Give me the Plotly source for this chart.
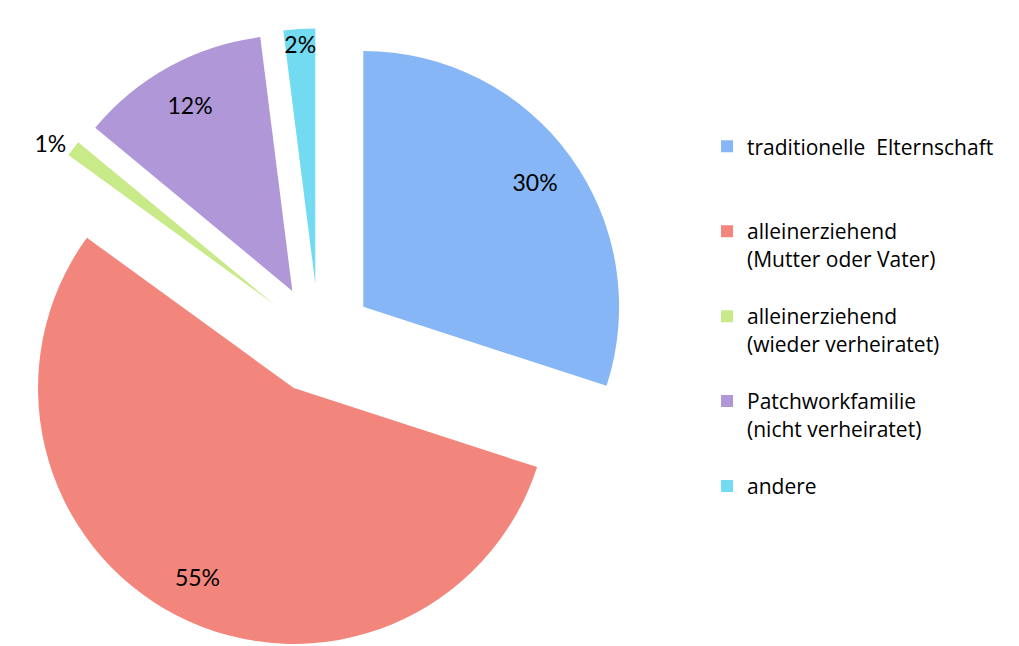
import plotly.graph_objects as go

categories = [
    "traditionelle  Elternschaft",
    "alleinerziehend<br>(Mutter oder Vater)",
    "alleinerziehend<br>(wieder verheiratet)",
    "Patchworkfamilie<br>(nicht verheiratet)",
    "andere",
]
values = [30, 55, 1, 12, 2]
colors = ["#86B6F5", "#F2867C", "#C8EA88", "#B098D8", "#72DAF1"]
text_positions = ["inside", "inside", "outside", "inside", "inside"]

# pad legend labels to three lines so entries are evenly spaced
legend_labels = []
for c in categories:
    n = c.count("<br>") + 1
    legend_labels.append(c + "<br> " * (3 - n))

pie_domain = dict(x=[0, 0.61], y=[0, 0.975])
pull = [0.215] * len(values)

# coloured slices (no text)
fig = go.Figure(
    go.Pie(
        labels=legend_labels,
        values=values,
        sort=False,
        direction="clockwise",
        rotation=0,
        pull=pull,
        marker=dict(colors=colors, line=dict(width=0)),
        textinfo="none",
        domain=pie_domain,
        hoverinfo="label+percent",
    )
)

# identical transparent ring on top, used only to place the percentage labels
fig.add_trace(
    go.Pie(
        labels=legend_labels,
        values=values,
        sort=False,
        direction="clockwise",
        rotation=0,
        pull=pull,
        hole=0.66,
        marker=dict(colors=["rgba(0,0,0,0)"] * len(values), line=dict(width=0)),
        texttemplate="%{percent:.0%}",
        textposition=text_positions,
        insidetextorientation="horizontal",
        textfont=dict(family="Lato", size=23, color="#000000"),
        domain=pie_domain,
        showlegend=False,
        hoverinfo="skip",
    )
)

fig.update_layout(
    width=1019,
    height=646,
    margin=dict(l=0, r=0, t=0, b=0, autoexpand=False),
    paper_bgcolor="white",
    plot_bgcolor="white",
    font=dict(family="Open Sans", size=21, color="#000000"),
    uniformtext=dict(minsize=23, mode="show"),
    legend=dict(
        x=0.686,
        y=0.817,
        xanchor="left",
        yanchor="top",
        valign="top",
        font=dict(family="Open Sans", size=21, color="#000000"),
        bgcolor="rgba(0,0,0,0)",
    ),
)

fig.write_html("out.html")
